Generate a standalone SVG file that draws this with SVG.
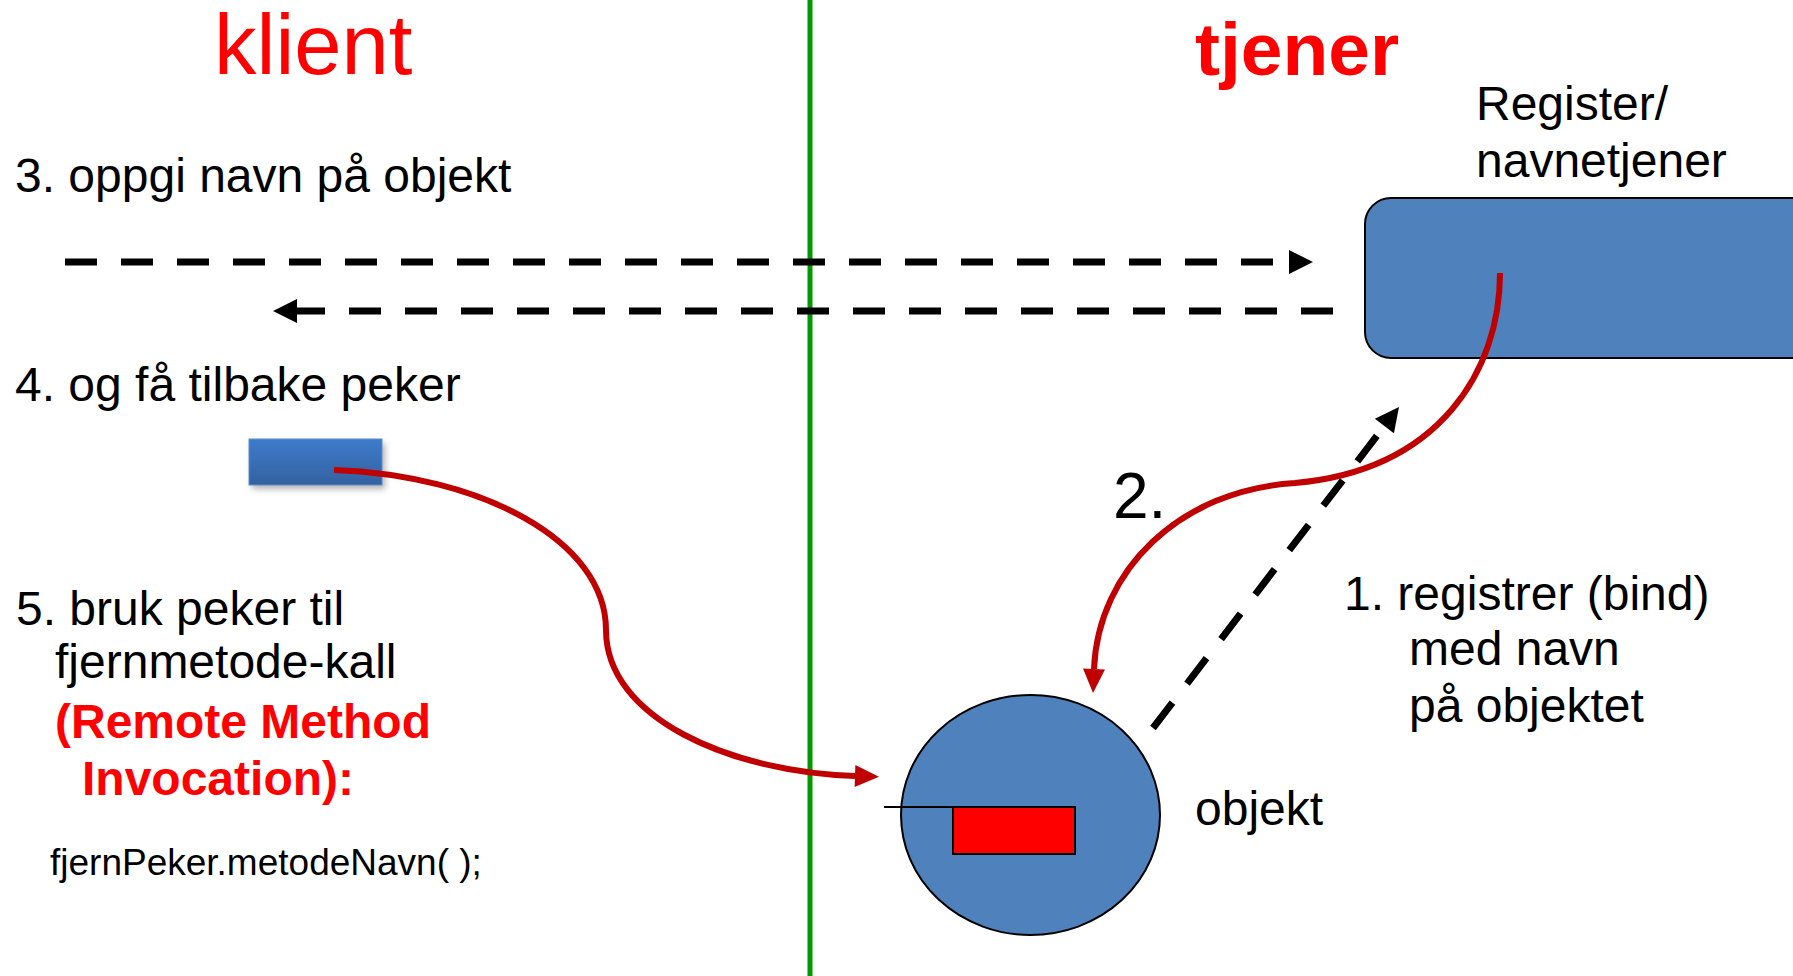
<svg xmlns="http://www.w3.org/2000/svg" width="1793" height="976" viewBox="0 0 1793 976">
  <style>
    .txt { font-family: "Liberation Sans", Arial, sans-serif; fill: #000; font-size: 48px; }
    .title { font-family: "Liberation Sans", Arial, sans-serif; fill: #FF0000; }
    .bold-red { font-family: "Liberation Sans", Arial, sans-serif; fill: #FF0000; font-weight: bold; font-size: 48px; }
    .dash { fill: none; stroke: #000; stroke-width: 7; stroke-dasharray: 32 24; }
    .call { fill: none; stroke: #C00000; stroke-width: 6; }
    .shape { fill: #4F81BD; stroke: #000; stroke-width: 2; }
  </style>
  <defs>
    <marker id="arrow-black" markerUnits="userSpaceOnUse" markerWidth="26" markerHeight="26" refX="0" refY="12" orient="auto" overflow="visible">
      <path d="M0,0 L24,12 L0,24 z" fill="#000"/>
    </marker>
    <marker id="arrow-red" markerUnits="userSpaceOnUse" markerWidth="26" markerHeight="26" refX="0" refY="11" orient="auto" overflow="visible">
      <path d="M0,0 L24,11 L0,22 z" fill="#C00000"/>
    </marker>
    <linearGradient id="pointer-fill" x1="0" y1="0" x2="0" y2="1">
      <stop offset="0" stop-color="#3D7CCB"/>
      <stop offset="1" stop-color="#3461A0"/>
    </linearGradient>
    <filter id="soft-shadow" x="-20%" y="-40%" width="140%" height="180%">
      <feGaussianBlur stdDeviation="3"/>
    </filter>
  </defs>

  <!-- client / server divider -->
  <line x1="810" y1="0" x2="810" y2="976" stroke="#009A00" stroke-width="5"/>

  <!-- headings -->
  <text class="title" x="214" y="74" style="font-size:85px">klient</text>
  <text class="title" x="1195" y="75" style="font-size:75px;font-weight:bold">tjener</text>

  <!-- left-side step labels -->
  <text class="txt" x="15" y="192">3. oppgi navn på objekt</text>
  <text class="txt" x="15" y="401">4. og få tilbake peker</text>
  <text class="txt" x="16" y="625">5. bruk peker til</text>
  <text class="txt" x="55" y="678">fjernmetode-kall</text>
  <text class="bold-red" x="55" y="738">(Remote Method</text>
  <text class="bold-red" x="82" y="795">Invocation):</text>
  <text class="txt" x="50" y="875" style="font-size:37px">fjernPeker.metodeNavn( );</text>

  <!-- registry / name server -->
  <g id="registry">
    <rect class="shape" x="1365" y="198" width="460" height="160" rx="26" ry="26"/>
    <text class="txt" x="1476" y="120">Register/</text>
    <text class="txt" x="1476" y="177">navnetjener</text>
  </g>

  <!-- client-side remote pointer -->
  <g id="pointer">
    <rect x="252" y="443" width="133" height="46" fill="#808080" opacity="0.6" filter="url(#soft-shadow)"/>
    <rect x="249" y="439" width="133" height="46" fill="url(#pointer-fill)" stroke="#5A8FD0" stroke-width="1"/>
  </g>

  <!-- remote object -->
  <g id="object">
    <ellipse class="shape" cx="1030.5" cy="815" rx="129.5" ry="120"/>
    <line x1="884" y1="807" x2="953" y2="807" stroke="#000" stroke-width="2"/>
    <rect x="953" y="807" width="122" height="47" fill="#FF0000" stroke="#000" stroke-width="2"/>
    <text class="txt" x="1195" y="825">objekt</text>
  </g>

  <!-- server-side step labels -->
  <text class="txt" x="1113" y="518" style="font-size:64px">2.</text>
  <text class="txt" x="1344" y="610">1. registrer (bind)</text>
  <text class="txt" x="1409" y="665">med navn</text>
  <text class="txt" x="1409" y="722">på objektet</text>

  <!-- connectors -->
  <g id="connectors">
    <path class="dash" d="M65,262 H1289" marker-end="url(#arrow-black)"/>
    <path class="dash" d="M1333,311 H297" marker-end="url(#arrow-black)"/>
    <path class="dash" d="M1153,728 L1384.4,426" marker-end="url(#arrow-black)"/>
    <path class="call" d="M1500,273 C1500,370 1440,470 1295,483 C1180,490 1098,570 1094,669" marker-end="url(#arrow-red)"/>
    <path class="call" d="M334,470 C480,475 606,540 606,630 C606,718 730,772 855,776" marker-end="url(#arrow-red)"/>
  </g>
</svg>
